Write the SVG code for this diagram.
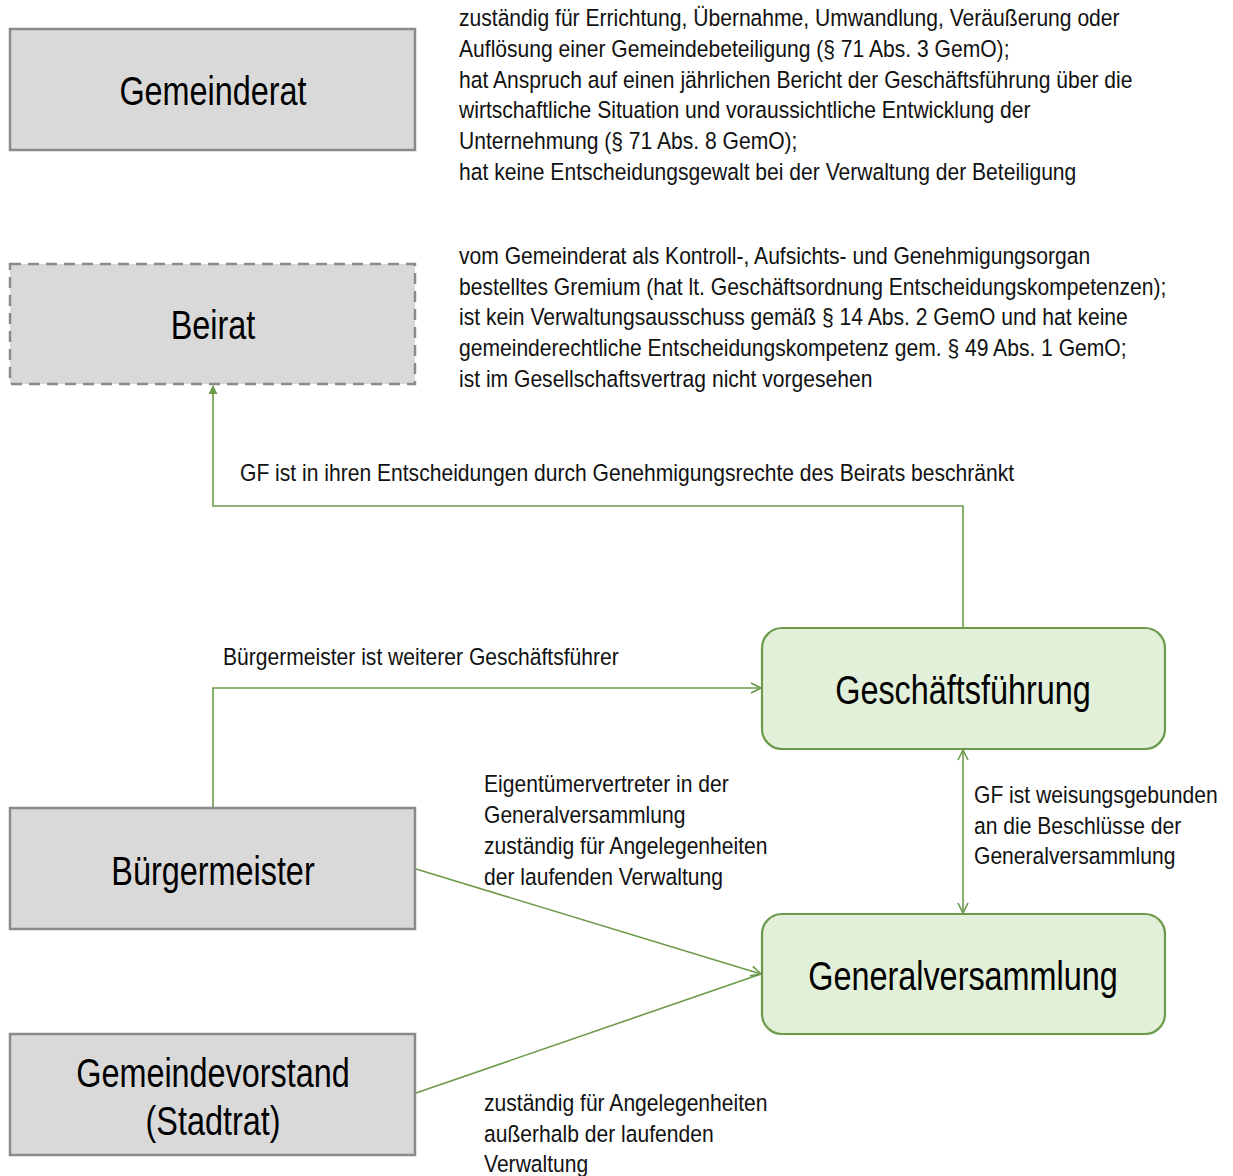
<svg xmlns="http://www.w3.org/2000/svg" width="1233" height="1176" viewBox="0 0 1233 1176">
<style>
.gray{fill:#d9d9d9;stroke:#8a8a8a;stroke-width:2.5}
.dash{stroke-dasharray:11 7}
.green{fill:#e2efd9;stroke:#6b9a4a;stroke-width:2.2}
.lbl{font-family:"Liberation Sans",Arial,sans-serif;font-size:40px;fill:#000;text-anchor:middle}
.txt{font-family:"Liberation Sans",Arial,sans-serif;font-size:23.5px;fill:#111}
.con{fill:none;stroke:#6b9a4a;stroke-width:1.6}
</style>
<defs>
<marker id="open" viewBox="0 0 12 12" refX="11" refY="6" markerWidth="12" markerHeight="12" markerUnits="userSpaceOnUse" orient="auto-start-reverse">
<path d="M1,1 L11,6 L1,11" fill="none" stroke="#6b9a4a" stroke-width="1.6"/>
</marker>
<marker id="fill" viewBox="0 0 10 10" refX="9" refY="5" markerWidth="9" markerHeight="9" markerUnits="userSpaceOnUse" orient="auto">
<path d="M0,0 L10,5 L0,10 Z" fill="#6b9a4a"/>
</marker>
</defs>
<g id="connectors">
<path class="con" d="M963,628 V506 H213 V386" marker-end="url(#fill)"/>
<path class="con" d="M213,808 V688 H761" marker-end="url(#open)"/>
<path class="con" d="M963,750 V913" marker-start="url(#open)" marker-end="url(#open)"/>
<path class="con" d="M416,869 L761,974" marker-end="url(#open)"/>
<path class="con" d="M416,1093 L761,974"/>
</g>
<g id="gemeinderat">
<rect class="gray" x="10" y="29" width="405" height="121"/>
<text class="lbl" transform="translate(213,105) scale(0.81,1)">Gemeinderat</text>
</g>
<g id="beirat">
<rect class="gray dash" x="10" y="264" width="405" height="120"/>
<text class="lbl" transform="translate(213,339) scale(0.81,1)">Beirat</text>
</g>
<g id="geschaeftsfuehrung">
<rect class="green" x="762" y="628" width="403" height="121" rx="20"/>
<text class="lbl" transform="translate(963,704) scale(0.81,1)">Geschäftsführung</text>
</g>
<g id="generalversammlung">
<rect class="green" x="762" y="914" width="403" height="120" rx="20"/>
<text class="lbl" transform="translate(963,990) scale(0.81,1)">Generalversammlung</text>
</g>
<g id="buergermeister">
<rect class="gray" x="10" y="808" width="405" height="121"/>
<text class="lbl" transform="translate(213,885) scale(0.81,1)">Bürgermeister</text>
</g>
<g id="gemeindevorstand">
<rect class="gray" x="10" y="1034" width="405" height="121"/>
<text class="lbl" transform="translate(213,1087) scale(0.81,1)">Gemeindevorstand</text>
<text class="lbl" transform="translate(213,1135) scale(0.81,1)">(Stadtrat)</text>
</g>
<g id="texts">
<text class="txt" transform="translate(459,26) scale(0.897,1)">zuständig für Errichtung, Übernahme, Umwandlung, Veräußerung oder</text>
<text class="txt" transform="translate(459,57) scale(0.897,1)">Auflösung einer Gemeindebeteiligung (§ 71 Abs. 3 GemO);</text>
<text class="txt" transform="translate(459,88) scale(0.897,1)">hat Anspruch auf einen jährlichen Bericht der Geschäftsführung über die</text>
<text class="txt" transform="translate(459,118) scale(0.897,1)">wirtschaftliche Situation und voraussichtliche Entwicklung der</text>
<text class="txt" transform="translate(459,149) scale(0.897,1)">Unternehmung (§ 71 Abs. 8 GemO);</text>
<text class="txt" transform="translate(459,180) scale(0.897,1)">hat keine Entscheidungsgewalt bei der Verwaltung der Beteiligung</text>
<text class="txt" transform="translate(459,264) scale(0.897,1)">vom Gemeinderat als Kontroll-, Aufsichts- und Genehmigungsorgan</text>
<text class="txt" transform="translate(459,295) scale(0.897,1)">bestelltes Gremium (hat lt. Geschäftsordnung Entscheidungskompetenzen);</text>
<text class="txt" transform="translate(459,325) scale(0.897,1)">ist kein Verwaltungsausschuss gemäß § 14 Abs. 2 GemO und hat keine</text>
<text class="txt" transform="translate(459,356) scale(0.897,1)">gemeinderechtliche Entscheidungskompetenz gem. § 49 Abs. 1 GemO;</text>
<text class="txt" transform="translate(459,387) scale(0.897,1)">ist im Gesellschaftsvertrag nicht vorgesehen</text>
<text class="txt" transform="translate(240,481) scale(0.897,1)">GF ist in ihren Entscheidungen durch Genehmigungsrechte des Beirats beschränkt</text>
<text class="txt" transform="translate(223,665) scale(0.897,1)">Bürgermeister ist weiterer Geschäftsführer</text>
<text class="txt" transform="translate(484,792) scale(0.897,1)">Eigentümervertreter in der</text>
<text class="txt" transform="translate(484,823) scale(0.897,1)">Generalversammlung</text>
<text class="txt" transform="translate(484,854) scale(0.897,1)">zuständig für Angelegenheiten</text>
<text class="txt" transform="translate(484,885) scale(0.897,1)">der laufenden Verwaltung</text>
<text class="txt" transform="translate(974,803) scale(0.897,1)">GF ist weisungsgebunden</text>
<text class="txt" transform="translate(974,834) scale(0.897,1)">an die Beschlüsse der</text>
<text class="txt" transform="translate(974,864) scale(0.897,1)">Generalversammlung</text>
<text class="txt" transform="translate(484,1111) scale(0.897,1)">zuständig für Angelegenheiten</text>
<text class="txt" transform="translate(484,1142) scale(0.897,1)">außerhalb der laufenden</text>
<text class="txt" transform="translate(484,1172) scale(0.897,1)">Verwaltung</text>
</g>
</svg>
